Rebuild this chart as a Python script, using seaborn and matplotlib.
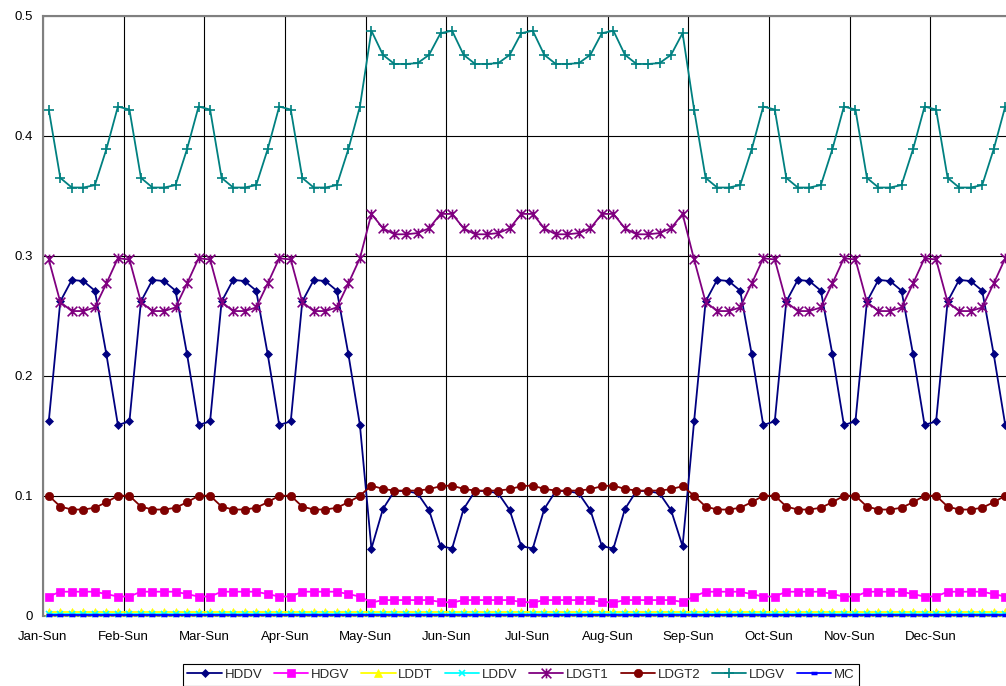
import numpy as np
import pandas as pd
import matplotlib
matplotlib.use('Agg')
import matplotlib.pyplot as plt
import seaborn as sns
from matplotlib.path import Path

months = ['Jan', 'Feb', 'Mar', 'Apr', 'May', 'Jun', 'Jul', 'Aug', 'Sep', 'Oct', 'Nov', 'Dec']
days = ['Sun', 'Mon', 'Tue', 'Wed', 'Thu', 'Fri', 'Sat']
# which weekday profile each month uses (W = winter, S = summer)
season = ['W', 'W', 'W', 'W', 'S', 'S', 'S', 'S', 'W', 'W', 'W', 'W']

# weekday profiles (Sun..Sat)
hddv_w = [0.162, 0.262, 0.280, 0.279, 0.271, 0.218, 0.159]
hddv_s = [0.056, 0.089, 0.104, 0.104, 0.102, 0.088, 0.058]
hdgv_w = [0.016, 0.020, 0.020, 0.020, 0.020, 0.018, 0.016]
hdgv_s = [0.011, 0.013, 0.013, 0.013, 0.013, 0.013, 0.0115]
lddt_w = [0.003, 0.003, 0.003, 0.003, 0.003, 0.003, 0.003]
lddt_s = [0.003, 0.003, 0.003, 0.003, 0.003, 0.003, 0.003]
lddv_w = [0.0015, 0.0015, 0.0015, 0.0015, 0.0015, 0.0015, 0.0015]
lddv_s = [0.0015, 0.0015, 0.0015, 0.0015, 0.0015, 0.0015, 0.0015]
ldgt1_w = [0.297, 0.2615, 0.254, 0.254, 0.257, 0.277, 0.298]
ldgt1_s = [0.335, 0.323, 0.318, 0.318, 0.319, 0.323, 0.335]
ldgt2_w = [0.100, 0.091, 0.0885, 0.0885, 0.090, 0.0946, 0.100]
ldgt2_s = [0.1085, 0.1057, 0.1043, 0.1043, 0.1043, 0.1055, 0.108]
ldgv_w = [0.422, 0.365, 0.357, 0.357, 0.359, 0.389, 0.4245]
ldgv_s = [0.4877, 0.4676, 0.460, 0.460, 0.4607, 0.4676, 0.4857]
mc_w = [0.0005, 0.0005, 0.0005, 0.0005, 0.0005, 0.0005, 0.0005]
mc_s = [0.0005, 0.0005, 0.0005, 0.0005, 0.0005, 0.0005, 0.0005]

profiles = {
    'HDDV': (hddv_w, hddv_s),
    'HDGV': (hdgv_w, hdgv_s),
    'LDDT': (lddt_w, lddt_s),
    'LDDV': (lddv_w, lddv_s),
    'LDGT1': (ldgt1_w, ldgt1_s),
    'LDGT2': (ldgt2_w, ldgt2_s),
    'LDGV': (ldgv_w, ldgv_s),
    'MC': (mc_w, mc_s),
}

rows = []
for name, (w, s) in profiles.items():
    for mi, m in enumerate(months):
        prof = w if season[mi] == 'W' else s
        for di, d in enumerate(days):
            rows.append({'series': name, 'x': mi * 7 + di + 0.5,
                         'label': f'{m}-{d}', 'value': prof[di]})
df = pd.DataFrame(rows)

star = Path([(0, -1), (0, 1), (-1, -1), (1, 1), (-1, 1), (1, -1)],
            [Path.MOVETO, Path.LINETO, Path.MOVETO, Path.LINETO, Path.MOVETO, Path.LINETO])

styles = {
    'HDDV': dict(color='#000080', marker='D', ms=4.5, mew=0.5),
    'HDGV': dict(color='#FF00FF', marker='s', ms=5.5, mew=0.5),
    'LDDT': dict(color='#FFFF00', marker='^', ms=6, mew=0.5),
    'LDDV': dict(color='#00FFFF', marker='x', ms=5, mew=1.2),
    'LDGT1': dict(color='#800080', marker=star, ms=7, mew=1.2),
    'LDGT2': dict(color='#800000', marker='o', ms=6, mew=0.5),
    'LDGV': dict(color='#008080', marker='+', ms=7.5, mew=1.2),
    'MC': dict(color='#0000FF', marker='_', ms=5, mew=2.5),
}

sns.set_style('white')
plt.rcParams['font.family'] = ['Liberation Sans', 'DejaVu Sans']

fig = plt.figure(figsize=(10.06, 6.86), dpi=100)
ax = fig.add_axes([43 / 1006, 70.3 / 686, (1011 - 43) / 1006, (615.7 - 16) / 686])

for name in profiles:
    st = styles[name]
    sns.lineplot(data=df[df.series == name], x='x', y='value', ax=ax,
                 color=st['color'], marker=st['marker'], markersize=st['ms'],
                 markeredgecolor=st['color'], markerfacecolor=st['color'],
                 markeredgewidth=st['mew'], lw=1.3, label=name,
                 zorder=3, clip_on=False)

ax.set_xlim(0, 84)
ax.set_ylim(0, 0.5)
ax.set_yticks(np.arange(0, 0.51, 0.1))
ax.set_yticklabels(['0', '0.1', '0.2', '0.3', '0.4', '0.5'])
sun = df[(df.series == 'HDDV') & (df.label.str.endswith('Sun'))]
ax.set_xticks(sun.x - 0.5)
ax.set_xticklabels(sun.label)
ax.set_xlabel('')
ax.set_ylabel('')
ax.grid(True, color='black', lw=0.8)
ax.set_axisbelow(True)
for side in ['left', 'bottom', 'top']:
    ax.spines[side].set_color('#808080')
    ax.spines[side].set_linewidth(1.5)
ax.spines['right'].set_visible(False)
ax.tick_params(axis='both', direction='out', length=4, width=1, color='#808080',
               labelsize=9.5, labelcolor='black')
ax.tick_params(axis='x', pad=7)
ax.tick_params(axis='y', pad=3)

ax.legend(loc='lower center', bbox_to_anchor=(521 / 1006, 0.5 / 686),
          bbox_transform=fig.transFigure, ncol=8, fontsize=9.5, frameon=True,
          fancybox=False, edgecolor='black', framealpha=1, borderpad=0.35,
          handlelength=2.6, handletextpad=0.2, columnspacing=0.9, borderaxespad=0)
ax.get_legend().get_frame().set_linewidth(0.8)

fig.savefig('out.png', dpi=100)
